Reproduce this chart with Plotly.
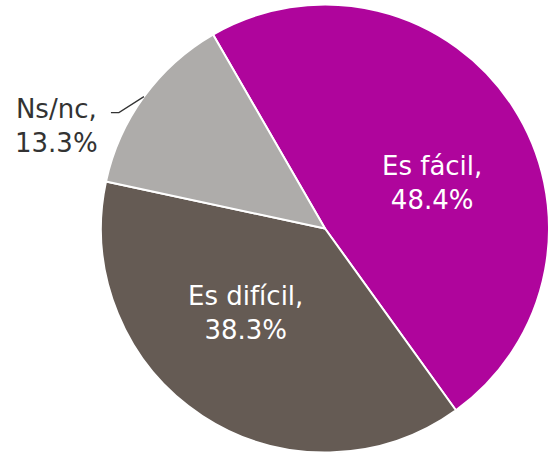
import math
import plotly.graph_objects as go

labels = ["Es fácil", "Es difícil", "Ns/nc"]
values = [48.4, 38.3, 13.3]
colors = ["#AF059C", "#655B54", "#AEACAA"]

W, H = 552, 454
cx, cy, r = 325, 228.5, 224
rotation = -30
FONT = "DejaVu Sans"
FS = 26

fig = go.Figure(go.Pie(
    labels=labels,
    values=values,
    sort=False,
    direction="clockwise",
    rotation=rotation,
    marker=dict(colors=colors, line=dict(color="white", width=2)),
    textinfo="none",
    domain=dict(x=[(cx - r) / W, (cx + r) / W], y=[(H - cy - r) / H, (H - cy + r) / H]),
    hoverinfo="label+percent",
    showlegend=False,
))

total = sum(values)


def to_paper(x, y):
    return x / W, 1 - y / H


def mid_angle(i):
    before = sum(values[:i])
    return math.radians(rotation + (before + values[i] / 2) / total * 360)


def label_text(i):
    return f"{labels[i]},<br>{values[i] / total * 100:.1f}%"


# inside labels for the two large slices
for i in (0, 1):
    a = mid_angle(i) + math.radians(10)
    lx = cx + 0.52 * r * math.sin(a)
    ly = cy - 0.52 * r * math.cos(a)
    x, y = to_paper(lx, ly)
    fig.add_annotation(
        x=x, y=y, xref="paper", yref="paper", xanchor="center", yanchor="middle",
        text=label_text(i), showarrow=False,
        font=dict(color="white", size=FS, family=FONT),
    )

# outside label with leader line for the small slice
a = mid_angle(2)
px = cx + r * math.sin(a)
py = cy - r * math.cos(a)
kx, ky = px - 25, py + 16
ex, ey = kx - 8, ky
p0, p1, p2 = to_paper(px, py), to_paper(kx, ky), to_paper(ex, ey)
fig.add_shape(
    type="path", xref="paper", yref="paper",
    path=f"M {p0[0]},{p0[1]} L {p1[0]},{p1[1]} L {p2[0]},{p2[1]}",
    line=dict(color="#333333", width=1.3),
)
tx, ty = to_paper(ex - 54, ey + 13)
fig.add_annotation(
    x=tx, y=ty, xref="paper", yref="paper", xanchor="center", yanchor="middle",
    text=label_text(2), showarrow=False,
    font=dict(color="#333333", size=FS, family=FONT),
)

fig.update_layout(
    width=W, height=H,
    margin=dict(l=0, r=0, t=0, b=0),
    paper_bgcolor="white", plot_bgcolor="white",
)
fig.write_html("out.html", config={"displayModeBar": False},
               post_script="document.body.style.margin='0';")
